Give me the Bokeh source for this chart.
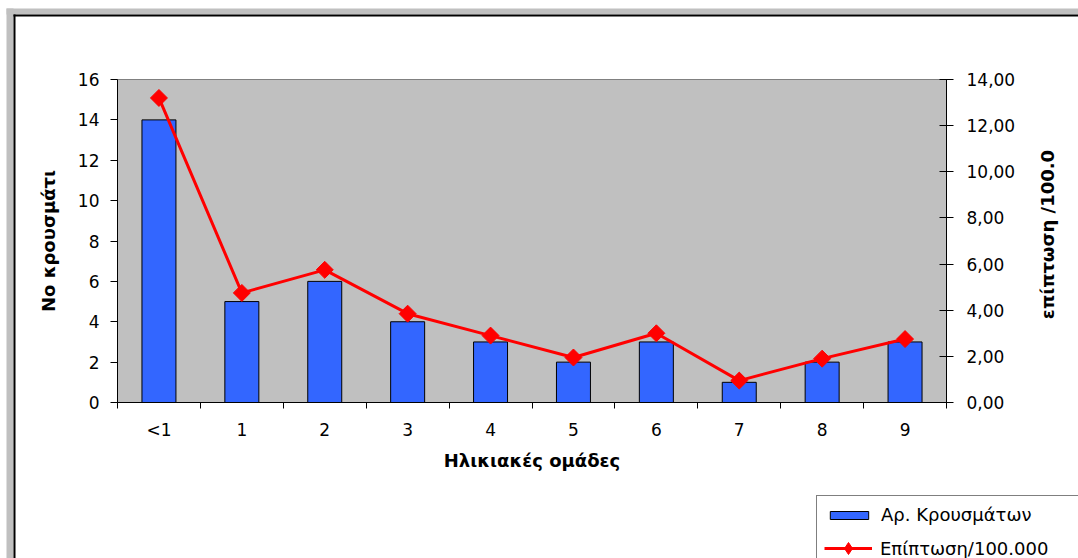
import math
from bokeh.plotting import figure
from bokeh.models import (Range1d, LinearAxis, FixedTicker, Legend, LegendItem,
                          BoxAnnotation, Label)
from bokeh.embed import file_html
from bokeh.resources import INLINE

# ---- data ----
categories = ["<1", "1", "2", "3", "4", "5", "6", "7", "8", "9"]
cases = [14, 5, 6, 4, 3, 2, 3, 1, 2, 3]
incidence = [13.2, 4.75, 5.75, 3.85, 2.9, 1.95, 3.0, 0.95, 1.9, 2.75]
left_ticks = [0, 2, 4, 6, 8, 10, 12, 14, 16]
right_ticks = [0, 2, 4, 6, 8, 10, 12, 14]
right_tick_labels = ["0,00", "2,00", "4,00", "6,00", "8,00", "10,00", "12,00", "14,00"]
bar_label = "Αρ. Κρουσμάτων"
line_label = "Επίπτωση/100.000"
x_title = "Ηλικιακές ομάδες"
y_title = "Νο κρουσμάτι"
y2_title = "επίπτωση /100.0"

FONT = "DejaVu Sans"
W, H = 1078, 558
# plot-area box inside the canvas (pixels from top-left)
PL, PT, PR, PB = 117, 79, 946, 402
YMAX, Y2MAX = 16, 14
NC = len(categories)

xs = (PR - PL) / NC
ys = (PB - PT) / YMAX
ys2 = (PB - PT) / Y2MAX
x_range = Range1d(-PL / xs, NC + (W - PR) / xs)
y_range = Range1d(-(H - PB) / ys, YMAX + PT / ys)
y2_range = Range1d(-(H - PB) / ys2, Y2MAX + PT / ys2)

xc = [i + 0.5 for i in range(NC)]
bounds = list(range(NC + 1))

p = figure(width=W, height=H, output_backend="svg", toolbar_location=None,
           x_range=x_range, y_range=y_range, min_border=0,
           min_border_left=0, min_border_right=0, min_border_top=0,
           min_border_bottom=0)
p.extra_y_ranges = {"inc": y2_range}
p.background_fill_color = "white"
p.border_fill_color = "white"
p.outline_line_color = None
p.xgrid.visible = False
p.ygrid.visible = False

# plot area (grey)
p.quad(left=0, right=NC, bottom=0, top=YMAX, fill_color="#C0C0C0",
       line_color="#808080", line_width=1)

bars = p.vbar(x=xc, top=cases, width=0.41, fill_color="#3366FF",
              line_color="black", line_width=1)
ln = p.line(x=xc, y=incidence, y_range_name="inc", line_color="#FF0000",
            line_width=3)
# legend diamond (drawn under the first point's marker, hidden by it)
mk_leg = p.scatter(x=xc[:1], y=incidence[:1], y_range_name="inc",
                   marker="diamond", size=10, fill_color="#FF0000",
                   line_color="#FF0000")
mk = p.scatter(x=xc, y=incidence, y_range_name="inc", marker="square",
               angle=math.pi / 4, size=12, fill_color="#FF0000",
               line_color="#FF0000")

# x axis
xa = p.xaxis[0]
xa.fixed_location = 0
xa.bounds = (0, NC)
xa.ticker = FixedTicker(ticks=xc, minor_ticks=bounds)
xa.major_label_overrides = {x: c for x, c in zip(xc, categories)}
xa.major_tick_out = 0
xa.major_tick_in = 0
xa.minor_tick_out = 6
xa.minor_tick_in = 0
xa.minor_tick_line_color = "black"
xa.major_label_standoff = 11
xa.axis_label = x_title
xa.axis_label_standoff = 7

# left axis
ya = p.yaxis[0]
ya.fixed_location = 0
ya.bounds = (0, YMAX)
ya.ticker = FixedTicker(ticks=left_ticks)
ya.major_tick_out = 7
ya.major_tick_in = 0
ya.minor_tick_out = 0
ya.minor_tick_in = 0
ya.major_label_standoff = 11
ya.axis_label = y_title
ya.axis_label_standoff = 16

# right axis
ra = LinearAxis(y_range_name="inc")
ra.fixed_location = NC
ra.bounds = (0, Y2MAX)
ra.ticker = FixedTicker(ticks=right_ticks)
ra.major_label_overrides = {t: l for t, l in zip(right_ticks, right_tick_labels)}
ra.major_tick_out = 7
ra.major_tick_in = 7
ra.minor_tick_out = 0
ra.minor_tick_in = 0
ra.major_label_standoff = 13
p.add_layout(ra, "right")

for ax in (xa, ya, ra):
    ax.axis_line_color = "black"
    ax.major_tick_line_color = "black"
    ax.major_label_text_font = FONT
    ax.major_label_text_font_size = "17px"
    ax.major_label_text_color = "black"
    ax.axis_label_text_font = FONT
    ax.axis_label_text_font_size = "18px"
    ax.axis_label_text_font_style = "bold"
    ax.axis_label_text_color = "black"

# right axis title, reading bottom to top
p.add_layout(Label(x=1047, y=H - 234, x_units="screen", y_units="screen",
                   text=y2_title, angle=math.pi / 2, text_align="center",
                   text_baseline="middle", text_font=FONT,
                   text_font_size="18px", text_font_style="bold",
                   text_color="black"))

# legend A: box with bar item and an empty second row
blank = p.line(x=[], y=[], line_alpha=0)
legA = Legend(items=[LegendItem(label=bar_label, renderers=[bars]),
                     LegendItem(label=" ", renderers=[blank])],
              location=(816, -8), orientation="vertical",
              padding=8, spacing=12, glyph_width=48, glyph_height=10,
              label_height=20, label_width=190, label_standoff=8,
              border_line_color="black", border_line_width=1,
              background_fill_color="white", background_fill_alpha=1,
              label_text_font=FONT, label_text_font_size="18px",
              label_text_color="black")
legB = Legend(items=[LegendItem(label=line_label, renderers=[ln, mk_leg])],
              location=(824, -5), orientation="vertical",
              padding=0, spacing=0, glyph_width=48, glyph_height=30,
              label_height=30, label_standoff=8,
              border_line_color=None, background_fill_alpha=0,
              label_text_font=FONT, label_text_font_size="18px",
              label_text_color="black")
p.add_layout(legA, "center")
p.add_layout(legB, "center")

# outer chart frame (grey band + black line at top and left)
box_kw = dict(left_units="screen", right_units="screen", top_units="screen",
              bottom_units="screen", line_color=None, fill_alpha=1)
p.add_layout(BoxAnnotation(left=6, right=W, bottom=H - 14, top=H - 8,
                           fill_color="#C0C0C0", **box_kw))
p.add_layout(BoxAnnotation(left=6, right=13, bottom=0, top=H - 8,
                           fill_color="#C0C0C0", **box_kw))
p.add_layout(BoxAnnotation(left=13, right=W, bottom=H - 16, top=H - 14,
                           fill_color="black", **box_kw))
p.add_layout(BoxAnnotation(left=13, right=15, bottom=0, top=H - 14,
                           fill_color="black", **box_kw))

open("out.html", "w").write(file_html(p, INLINE))
